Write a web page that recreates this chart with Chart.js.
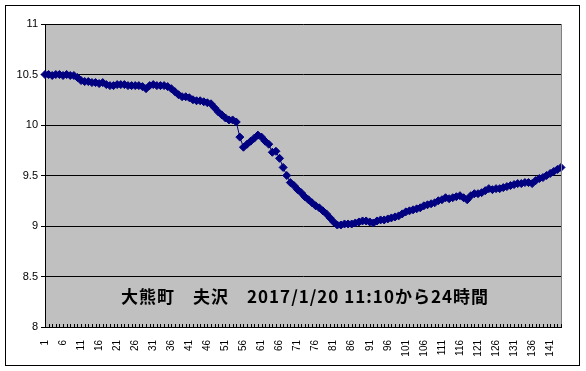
<!DOCTYPE html>
<html>
<head>
<meta charset="utf-8">
<script src="https://cdn.jsdelivr.net/npm/chart.js@4/dist/chart.umd.min.js"></script>
<style>
  body { margin: 0; background: #fff; }
</style>
</head>
<body>
<canvas id="chart" width="586" height="371"></canvas>
<script>
// 10分ごとの測定値 (1 = 11:10)
const values = [
    10.50, 10.50, 10.49, 10.50, 10.50, 10.49, 10.50, 10.49, 10.49, 10.47,
    10.44, 10.43, 10.43, 10.42, 10.42, 10.41, 10.42, 10.40, 10.39, 10.39,
    10.40, 10.40, 10.40, 10.39, 10.39, 10.39, 10.39, 10.38, 10.36, 10.39,
    10.40, 10.39, 10.39, 10.39, 10.38, 10.36, 10.33, 10.30, 10.28, 10.28,
    10.27, 10.25, 10.24, 10.24, 10.23, 10.22, 10.21, 10.17, 10.13, 10.10,
    10.07, 10.05, 10.05, 10.03, 9.88, 9.78, 9.81, 9.84, 9.87, 9.90,
    9.88, 9.84, 9.81, 9.73, 9.74, 9.67, 9.58, 9.50, 9.43, 9.40,
    9.36, 9.33, 9.29, 9.26, 9.23, 9.20, 9.18, 9.15, 9.12, 9.08,
    9.04, 9.01, 9.01, 9.02, 9.02, 9.02, 9.03, 9.04, 9.05, 9.05,
    9.04, 9.03, 9.05, 9.06, 9.06, 9.07, 9.08, 9.09, 9.10, 9.12,
    9.14, 9.15, 9.16, 9.17, 9.18, 9.20, 9.21, 9.22, 9.23, 9.25,
    9.26, 9.28, 9.27, 9.28, 9.29, 9.30, 9.28, 9.26, 9.30, 9.32,
    9.32, 9.33, 9.35, 9.37, 9.36, 9.37, 9.37, 9.38, 9.39, 9.40,
    9.41, 9.42, 9.42, 9.43, 9.43, 9.42, 9.45, 9.47, 9.48, 9.50,
    9.52, 9.54, 9.56, 9.58
];
const categories = values.map((v, i) => String(i + 1));
const yMin = 8;
const yMax = 11;
const yStep = 0.5;
const labelEvery = 5;
const titleText = "大熊町　夫沢　2017/1/20 11:10から24時間";

const framePlugin = {
    id: "frame",
    beforeDraw(chart) {
        const ctx = chart.ctx;
        const a = chart.chartArea;
        ctx.save();
        ctx.fillStyle = "#ffffff";
        ctx.fillRect(0, 0, chart.width, chart.height);
        ctx.strokeStyle = "#000000";
        ctx.lineWidth = 1;
        ctx.strokeRect(5.5, 5.5, 574, 360);
        ctx.fillStyle = "#c0c0c0";
        ctx.fillRect(a.left, a.top, a.right - a.left, a.bottom - a.top);
        ctx.restore();
    },
    afterDraw(chart) {
        const ctx = chart.ctx;
        const a = chart.chartArea;
        const xs = chart.scales.x;
        ctx.save();
        // 右の枠線
        ctx.strokeStyle = "#808080";
        ctx.lineWidth = 1;
        ctx.beginPath();
        ctx.moveTo(Math.round(a.right) + 0.5, a.top);
        ctx.lineTo(Math.round(a.right) + 0.5, a.bottom);
        ctx.stroke();
        // x軸の目盛り (内側)
        ctx.strokeStyle = "#000000";
        ctx.beginPath();
        xs.ticks.forEach((t, i) => {
            const x = Math.round(xs.getPixelForTick(i)) + 0.5;
            ctx.moveTo(x, a.bottom);
            ctx.lineTo(x, a.bottom - 3);
        });
        ctx.stroke();
        // タイトル
        ctx.fillStyle = "#000000";
        ctx.font = "bold 17px 'Noto Sans CJK JP'";
        ctx.letterSpacing = "1px";
        ctx.textAlign = "center";
        ctx.textBaseline = "middle";
        ctx.fillText(titleText, 305, 297);
        ctx.restore();
    }
};

new Chart(document.getElementById("chart"), {
    type: "line",
    data: {
        labels: categories,
        datasets: [{
            data: values,
            borderColor: "#000080",
            backgroundColor: "#000080",
            borderWidth: 1,
            pointStyle: "rectRot",
            pointRadius: 4,
            pointBorderWidth: 1,
            pointBorderColor: "#000080",
            tension: 0
        }]
    },
    options: {
        responsive: false,
        animation: false,
        devicePixelRatio: 1,
        layout: { padding: { top: 24, right: 16, left: 0, bottom: 0 } },
        plugins: {
            legend: { display: false },
            tooltip: { enabled: false }
        },
        scales: {
            x: {
                afterFit(axis) { axis.height = 44; },
                grid: { drawOnChartArea: false, drawTicks: false },
                border: { color: "#000000", width: 1 },
                ticks: {
                    autoSkip: false,
                    maxRotation: 90,
                    minRotation: 90,
                    padding: 13,
                    color: "#000000",
                    font: { family: "'Liberation Sans', Arial", size: 10 },
                    callback: function (val, i) {
                        return i % labelEvery === 0 ? categories[i] : "";
                    }
                }
            },
            y: {
                min: yMin,
                max: yMax,
                afterFit(axis) { axis.width = 45; },
                grid: { color: "#000000", lineWidth: 1, tickLength: 4 },
                border: { color: "#000000", width: 1 },
                ticks: {
                    stepSize: yStep,
                    padding: 3,
                    color: "#000000",
                    font: { family: "'Liberation Sans', Arial", size: 11 },
                    callback: v => String(Math.round(v * 10) / 10)
                }
            }
        }
    },
    plugins: [framePlugin]
});
</script>
</body>
</html>
